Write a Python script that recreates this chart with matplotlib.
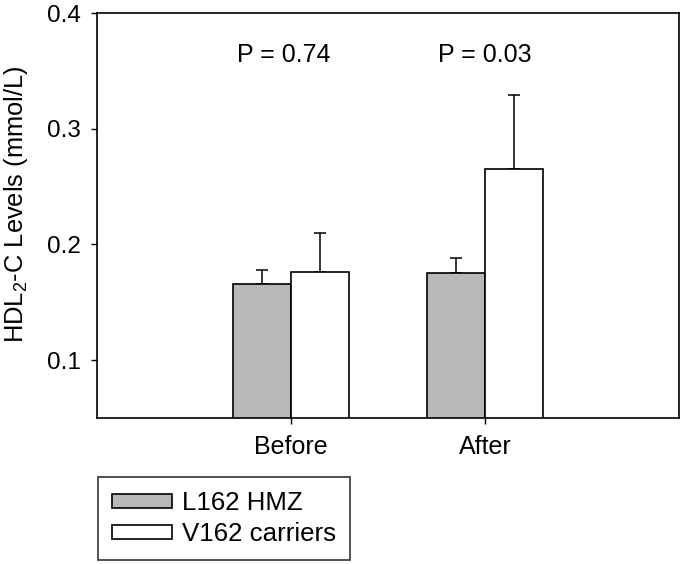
import matplotlib
matplotlib.use("Agg")
import matplotlib.pyplot as plt
from matplotlib.patches import Patch
import numpy as np

plt.rcParams['font.family'] = ['Liberation Sans', 'DejaVu Sans']
plt.rcParams['mathtext.default'] = 'regular'

categories = ["Before", "After"]
series_names = ["L162 HMZ", "V162 carriers"]
l162_means = [0.166, 0.175]
l162_err = [0.012, 0.013]
v162_means = [0.176, 0.265]
v162_err = [0.034, 0.064]
p_labels = ["P = 0.74", "P = 0.03"]
p_offsets = [-0.035, 0.0]
yticks = [0.1, 0.2, 0.3, 0.4]

fig = plt.figure(figsize=(6.85, 5.64), dpi=100)
ax = fig.add_axes([97/685, 1-418/564, (679-97)/685, (418-13)/564])

x = np.arange(len(categories))
w = 0.3
gray = '#b8b8b8'
ax.bar(x - w/2, l162_means, width=w, color=gray, edgecolor='black', linewidth=1.2, zorder=2)
ax.bar(x + w/2, v162_means, width=w, color='white', edgecolor='black', linewidth=1.2, zorder=2)
ax.errorbar(x - w/2, l162_means, yerr=[np.zeros(len(x)), l162_err], fmt='none',
            ecolor='black', elinewidth=1.1, capsize=4.5, capthick=1.1, zorder=1)
ax.errorbar(x + w/2, v162_means, yerr=[np.zeros(len(x)), v162_err], fmt='none',
            ecolor='black', elinewidth=1.1, capsize=4.5, capthick=1.1, zorder=1)

for xi, off, p in zip(x, p_offsets, p_labels):
    ax.text(xi + off, 0.3635, p, ha='center', va='center', fontsize=18)

ax.set_xlim(-1, 2)
ax.set_ylim(0.05, 0.4)
ax.set_yticks(yticks)
ax.set_yticklabels([f"{t:.1f}" for t in yticks])
ax.set_xticks(x)
ax.set_xticklabels(categories)
ax.tick_params(axis='y', direction='out', length=4.5, width=1, labelsize=17.5, pad=7)
ax.tick_params(axis='x', direction='out', length=4.5, width=1, labelsize=18, pad=8)
for s in ax.spines.values():
    s.set_linewidth(1.2)
ax.set_ylabel('HDL$_2$-C Levels (mmol/L)', fontsize=18.4)
ax.yaxis.set_label_coords(-0.115, 0.527)

handles = [Patch(facecolor=gray, edgecolor='black', linewidth=1.2),
           Patch(facecolor='white', edgecolor='black', linewidth=1.2)]
leg = fig.legend(handles, series_names, loc='upper left',
                 bbox_to_anchor=(98/685, 1-477/564), fontsize=18.6,
                 frameon=True, fancybox=False, edgecolor='black',
                 handlelength=2.3, handleheight=0.45, handletextpad=0.4,
                 labelspacing=0.26, borderpad=0.55, borderaxespad=0)
leg.get_frame().set_linewidth(1.2)

fig.savefig('out.png', dpi=100)
